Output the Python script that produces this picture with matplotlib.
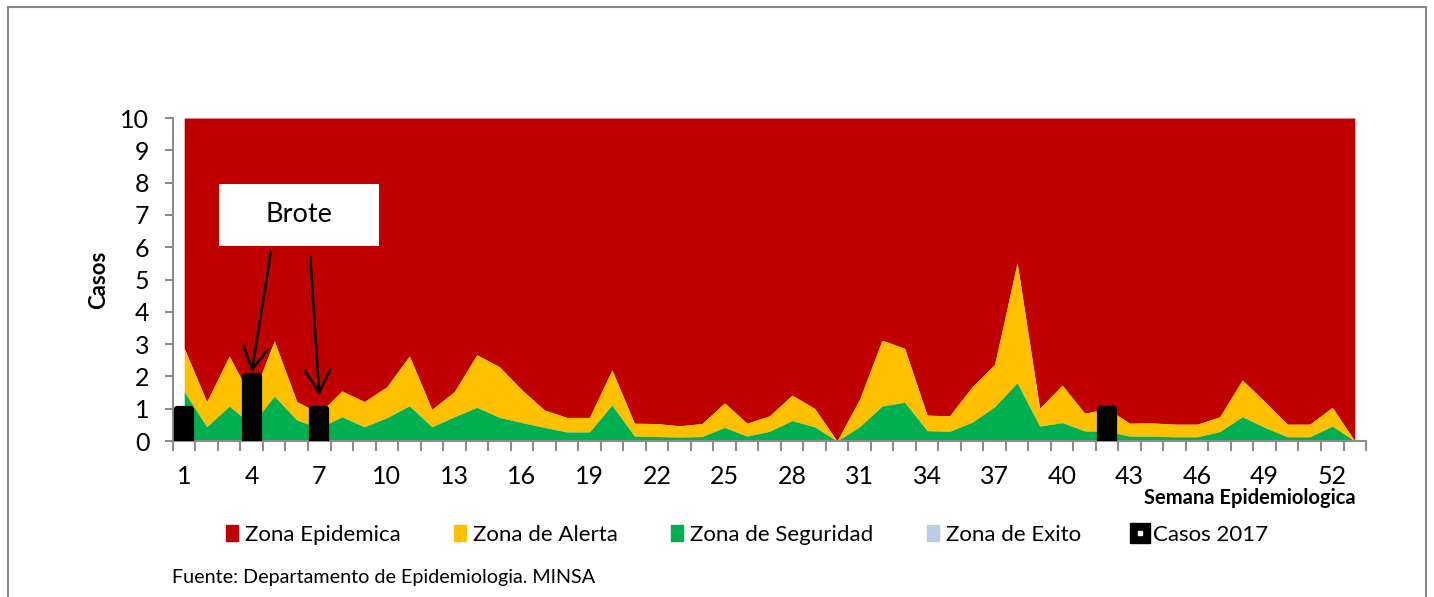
import matplotlib
matplotlib.use("Agg")
import matplotlib.pyplot as plt
from matplotlib.patches import Patch, Rectangle
from matplotlib.lines import Line2D

plt.rcParams['font.family'] = ['Lato', 'DejaVu Sans']

# semanas epidemiologicas
semanas = list(range(1, 54))
etiquetas_x = list(range(1, 54, 3))

# limites superiores acumulados de cada zona (canal endemico)
lim_exito = [0, 0, 0, 0, 0, 0.04, 0, 0, 0, 0,
             0, 0, 0.02, 0, 0, 0, 0, 0, 0, 0.04,
             0, 0, 0, 0, 0, 0, 0, 0, 0, 0,
             0, 0, 0, 0, 0, 0, 0, 0, 0, 0,
             0, 0, 0, 0, 0, 0, 0, 0, 0, 0,
             0, 0, 0]
lim_seguridad = [1.53, 0.44, 1.08, 0.50, 1.39, 0.65, 0.40, 0.75, 0.44, 0.72,
                 1.09, 0.44, 0.75, 1.04, 0.73, 0.57, 0.42, 0.28, 0.28, 1.11,
                 0.15, 0.14, 0.12, 0.14, 0.42, 0.15, 0.30, 0.63, 0.44, 0.0,
                 0.44, 1.08, 1.20, 0.32, 0.30, 0.58, 1.06, 1.80, 0.46, 0.57,
                 0.31, 0.30, 0.15, 0.15, 0.13, 0.13, 0.29, 0.75, 0.42, 0.13,
                 0.13, 0.46, 0.0]
lim_alerta = [2.87, 1.22, 2.63, 1.30, 3.10, 1.22, 0.86, 1.55, 1.22, 1.68,
              2.63, 0.98, 1.53, 2.67, 2.30, 1.58, 0.96, 0.73, 0.73, 2.20,
              0.55, 0.54, 0.47, 0.54, 1.18, 0.55, 0.78, 1.42, 1.01, 0.0,
              1.29, 3.12, 2.87, 0.80, 0.78, 1.68, 2.37, 5.52, 1.01, 1.73,
              0.86, 1.00, 0.55, 0.56, 0.52, 0.52, 0.75, 1.89, 1.22, 0.52,
              0.52, 1.04, 0.0]
lim_epidemica = [10] * 53  # la zona epidemica llena hasta el tope del eje

# casos 2017 (solo semanas con casos)
semanas_casos = [1, 4, 7, 42]
casos_2017 = [1, 2, 1, 1]

c_epid = '#C00000'
c_alerta = '#FFC000'
c_seg = '#00B050'
c_exito = '#B9CDE5'
c_eje = '#8C8C8C'

fig = plt.figure(figsize=(14.34, 5.97), dpi=100)
ax = fig.add_axes([0.1206, 0.2613, 0.832, 0.541])

ax.fill_between(semanas, lim_alerta, lim_epidemica, color=c_epid, lw=0)
ax.fill_between(semanas, lim_seguridad, lim_alerta, color=c_alerta, lw=0)
ax.fill_between(semanas, lim_exito, lim_seguridad, color=c_seg, lw=0)
ax.fill_between(semanas, 0, lim_exito, color=c_exito, lw=0)

ax.bar(semanas_casos, casos_2017, width=0.62, color='black', edgecolor='black',
       linewidth=4.5, joinstyle='round', zorder=3)

ax.set_xlim(0.5, 53.5)
ax.set_ylim(0, 10)
ax.set_yticks(range(0, 11))
ax.set_xticks(etiquetas_x)
ax.set_xticks([s + 0.5 for s in range(0, 54)], minor=True)
ax.tick_params(axis='x', which='major', length=0, pad=17, labelsize=18)
ax.tick_params(axis='x', which='minor', length=7, width=1.5, color=c_eje)
ax.tick_params(axis='y', which='major', length=6, width=1.5, color=c_eje,
               labelsize=18, pad=11)
for s in ['top', 'right']:
    ax.spines[s].set_visible(False)
for s in ['left', 'bottom']:
    ax.spines[s].set_color(c_eje)
    ax.spines[s].set_linewidth(1.5)

ax.set_ylabel('Casos', fontsize=16, fontweight='bold', labelpad=8)
fig.text(0.945, 0.166, 'Semana Epidemiologica', fontsize=14.5, fontweight='bold',
         ha='right', va='center')

# cuadro "Brote" con flechas
fig.patches.append(Rectangle((0.1527, 0.588), 0.1116, 0.1039, transform=fig.transFigure,
                             facecolor='white', edgecolor='none', zorder=5))
fig.text(0.2085, 0.640, 'Brote', fontsize=19.5, ha='center', va='center', zorder=6)
flecha = dict(arrowstyle='->,head_length=0.8,head_width=0.45', color='black', lw=1.8,
              mutation_scale=20, shrinkA=0, shrinkB=0)
ax.annotate('', xy=(4.0, 2.14), xytext=(4.85, 5.86), arrowprops=flecha, zorder=4)
ax.annotate('', xy=(7.0, 1.42), xytext=(6.6, 5.70), arrowprops=flecha, zorder=4)

handles = [Patch(color=c_epid), Patch(color=c_alerta), Patch(color=c_seg),
           Patch(color=c_exito),
           (Line2D([], [], marker='s', ms=15, color='black', ls='none'),
            Line2D([], [], marker='s', ms=3.5, color='white', ls='none'))]
labels = ['Zona Epidemica', 'Zona de Alerta', 'Zona de Seguridad', 'Zona de Exito',
          'Casos 2017']
fig.legend(handles, labels, loc='center', bbox_to_anchor=(0.521, 0.104), ncol=5,
           frameon=False, fontsize=16, handlelength=0.55, handleheight=0.7,
           handletextpad=0.3, columnspacing=2.4)

fig.text(0.12, 0.033, 'Fuente: Departamento de Epidemiologia. MINSA', fontsize=14.2,
         ha='left', va='center')

# marco exterior
fig.patches.append(Rectangle((0.0056, -0.05), 0.9885, 1.038, transform=fig.transFigure,
                             facecolor='none', edgecolor='#888888', lw=1.5))

fig.savefig('out.png', dpi=100)
